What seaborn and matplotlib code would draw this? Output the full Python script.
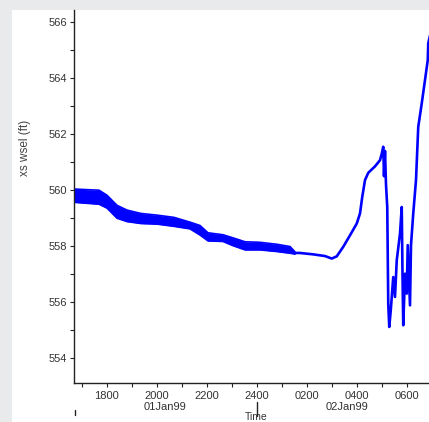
import matplotlib
matplotlib.use("Agg")
import matplotlib.pyplot as plt
import matplotlib.patches as mpatches
import numpy as np
import pandas as pd
import seaborn as sns

# ---- data (hours since 00:00 01Jan99) ----
band_hours = [16.50, 17.69, 18.01, 18.41, 18.81, 19.37, 20.01, 20.69, 21.33,
              21.73, 22.05, 22.65, 23.05, 23.53, 24.13, 24.81, 25.33, 25.53]
band_upper = [560.05, 560.00, 559.82, 559.46, 559.29, 559.17, 559.11, 559.03, 558.86,
              558.74, 558.48, 558.41, 558.30, 558.16, 558.14, 558.07, 557.99, 557.80]
band_lower = [559.58, 559.50, 559.36, 559.00, 558.88, 558.81, 558.79, 558.71, 558.62,
              558.40, 558.19, 558.17, 558.02, 557.87, 557.87, 557.81, 557.75, 557.72]

line_hours = [25.53, 25.73, 26.26, 26.73, 27.00, 27.20, 27.46, 27.73, 28.00, 28.13,
              28.22, 28.33, 28.46, 28.73, 28.93, 29.00, 29.06, 29.09, 29.13, 29.17,
              29.22, 29.26, 29.30, 29.36, 29.46, 29.53, 29.60, 29.73, 29.80, 29.83,
              29.86, 29.93, 30.00, 30.04, 30.13, 30.17, 30.26, 30.37, 30.46, 30.60,
              30.73, 30.84, 30.86, 30.95]
line_values = [557.76, 557.76, 557.71, 557.65, 557.56, 557.64, 557.98, 558.39, 558.81, 559.17,
               559.76, 560.36, 560.62, 560.85, 561.07, 561.30, 561.55, 560.50, 561.40, 560.20,
               559.40, 555.95, 555.12, 555.71, 556.90, 556.19, 557.50, 558.45, 559.40, 557.00,
               555.18, 557.02, 556.31, 558.04, 555.89, 558.04, 559.17, 560.36, 562.26, 563.10,
               563.93, 564.64, 565.24, 565.60]

x_major = [18, 20, 22, 24, 26, 28, 30]
x_major_labels = ["1800", "2000", "2200", "2400", "0200", "0400", "0600"]
day_labels = ["01Jan99", "02Jan99"]
day_label_pos = [20.33, 27.6]
y_major = [554, 556, 558, 560, 562, 564, 566]

W, H = 429, 422
sns.set_style("white")
plt.rcParams['font.family'] = ['Liberation Sans', 'DejaVu Sans']

fig = plt.figure(figsize=(W / 100, H / 100), dpi=100)
fig.patch.set_facecolor("white")
# gray screenshot margins (left and top)
fig.patches.append(mpatches.Rectangle((0, 0), 12 / W, 1, transform=fig.transFigure,
                                      facecolor="#e8eaeb", edgecolor="none", zorder=-10))
fig.patches.append(mpatches.Rectangle((0, 1 - 10 / H), 1, 10 / H, transform=fig.transFigure,
                                      facecolor="#e8eaeb", edgecolor="none", zorder=-10))

ax = fig.add_axes([74 / W, 1 - 383 / H, (W - 74) / W, (383 - 10) / H])
ax.set_facecolor("white")

blue = "#0000ff"
ax.fill_between(band_hours, band_lower, band_upper, color=blue, linewidth=0)
band_df = pd.DataFrame({"t": band_hours, "up": band_upper, "lo": band_lower})
sns.lineplot(data=band_df, x="t", y="up", ax=ax, color=blue, linewidth=1.2)
sns.lineplot(data=band_df, x="t", y="lo", ax=ax, color=blue, linewidth=1.2)
line_df = pd.DataFrame({"t": line_hours, "v": line_values})
sns.lineplot(data=line_df, x="t", y="v", ax=ax, color=blue, linewidth=1.9, sort=False)

ax.set_xlim(16.69, 30.89)
ax.set_ylim(553.12, 566.43)

for s in ["top", "right"]:
    ax.spines[s].set_visible(False)
for s in ["left", "bottom"]:
    ax.spines[s].set_color("#222222")
    ax.spines[s].set_linewidth(1.0)

ax.set_xticks(list(range(17, 31)))
ax.set_xticklabels([x_major_labels[x_major.index(h)] if h in x_major else "" for h in range(17, 31)])
ax.set_yticks(y_major)
ax.set_yticklabels([str(v) for v in y_major])
ax.set_yticks([555, 557, 559, 561, 563, 565], minor=True)
ax.tick_params(axis="both", which="both", direction="out", length=3, width=0.8,
               color="#222222", labelsize=8, labelcolor="#333333", pad=2,
               bottom=True, left=True)
ax.tick_params(axis="x", pad=3)
ax.set_xlabel("")
ax.set_ylabel("")

for lab, pos in zip(day_labels, day_label_pos):
    ax.text(pos, -0.052, lab, transform=ax.get_xaxis_transform(), ha="center", va="top",
            fontsize=8, color="#333333", clip_on=False)

# day separator marks
ax.plot([24, 24], [-0.052, -0.088], transform=ax.get_xaxis_transform(), color="#222222",
        lw=1.0, clip_on=False)
ax.plot([16.74, 16.74], [-0.072, -0.086], transform=ax.get_xaxis_transform(), color="#222222",
        lw=1.0, clip_on=False)

fig.text(256.7 / W, 1 - 421.5 / H, "Time", ha="center", va="bottom", fontsize=7.5, color="#333333")
fig.text(25 / W, 1 - 148 / H, "xs wsel (ft)", rotation=90, ha="center", va="center",
         fontsize=8.5, color="#444444")

fig.savefig("out.png", dpi=100, facecolor=fig.get_facecolor())
